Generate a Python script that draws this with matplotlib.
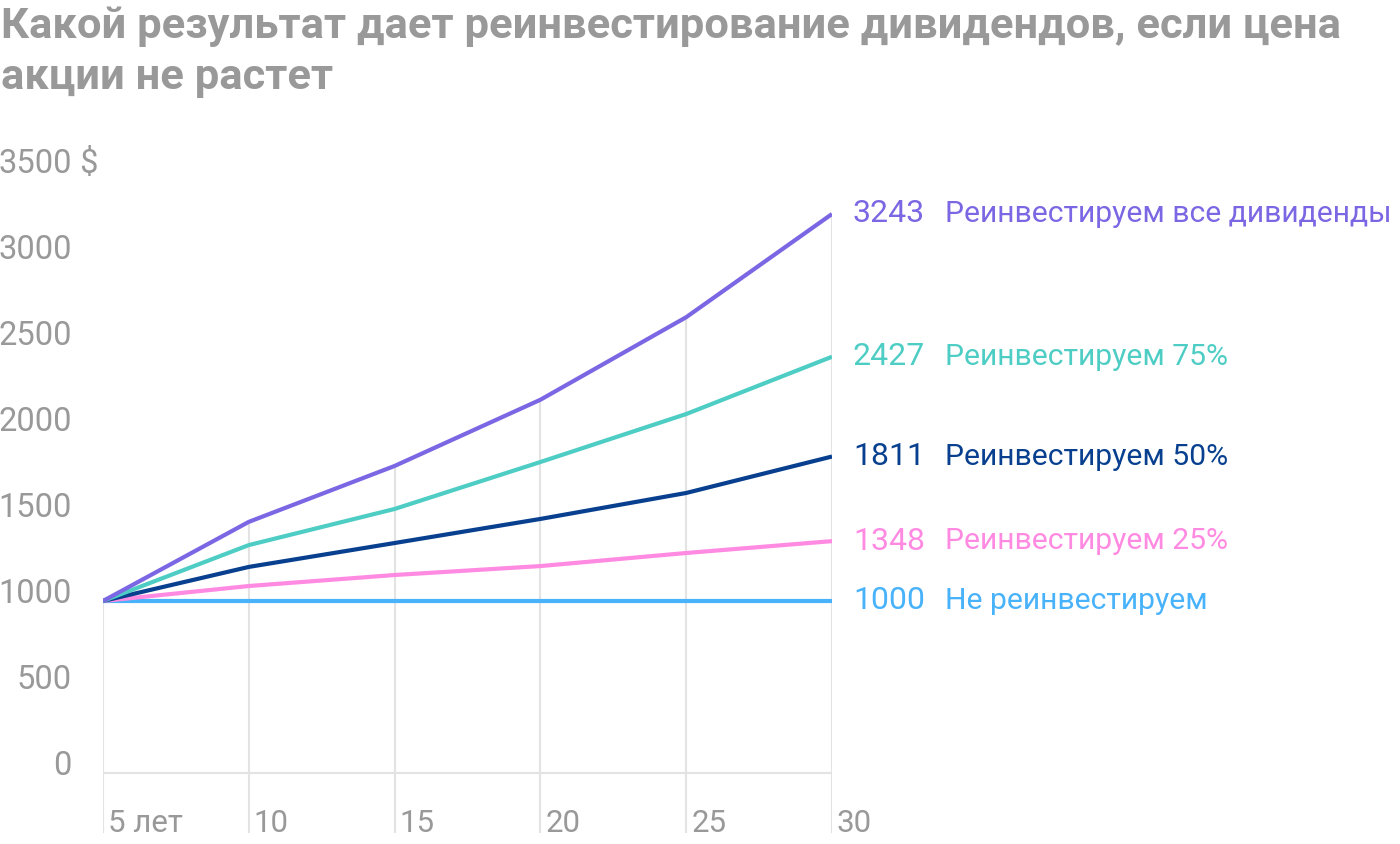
import matplotlib
matplotlib.use("Agg")
import matplotlib.pyplot as plt
from matplotlib import transforms

plt.rcParams['font.family'] = ['Roboto', 'DejaVu Sans']

years = [5, 10, 15, 20, 25, 30]
x_labels = ['5 лет', '10', '15', '20', '25', '30']

# dollars
all_div = [1000, 1460, 1785, 2170, 2650, 3250]
div_75 = [1000, 1325, 1535, 1808, 2087, 2420]
div_50 = [1000, 1198, 1337, 1477, 1628, 1840]
div_25 = [1000, 1087, 1151, 1203, 1279, 1348]
no_div = [1000, 1000, 1000, 1000, 1000, 1000]

end_values = ['3243', '2427', '1811', '1348', '1000']
names = ['Реинвестируем все дивиденды', 'Реинвестируем 75%',
         'Реинвестируем 50%', 'Реинвестируем 25%', 'Не реинвестируем']
colors = ['#7B66E3', '#4ECDC4', '#08408F', '#FF8AE2', '#48B2FA']

y_ticks = [0, 500, 1000, 1500, 2000, 2500, 3000, 3500]
y_labels = ['0', '500', '1000', '1500', '2000', '2500', '3000', '3500']

grey = '#999999'
grid = '#E3E3E3'

fig = plt.figure(figsize=(14, 8.44), dpi=100)
ax = fig.add_axes([103 / 1400, 11 / 844, (832 - 103) / 1400, (833 - 171) / 844])
ax.set_xlim(5, 30)
ax.set_ylim(-349, 3500)
ax.axis('off')

# vertical grid lines from the bottom up to the top series
ax.vlines(years, -349, all_div, color=grid, lw=1.5, zorder=1)
ax.hlines(0, 5, 30, color=grid, lw=1.5, zorder=1)

series = [all_div, div_75, div_50, div_25, no_div]
for vals, c in zip(series[::-1], colors[::-1]):
    ax.plot(years, vals, color=c, lw=3, solid_capstyle='butt', zorder=3)

# y labels, right aligned, slightly above their value
lab_tr = transforms.offset_copy(ax.transData, fig=fig, x=-31, y=7, units='dots')
for v, s in zip(y_ticks, y_labels):
    ax.text(5, v, s, transform=lab_tr, ha='right', va='center',
            fontsize=23.5, color=grey, clip_on=False)
ax.text(5, 3500, ' $', transform=lab_tr, ha='left', va='center',
        fontsize=23.5, color=grey, clip_on=False)

# x labels to the right of each grid line
x_tr = transforms.offset_copy(ax.transData, fig=fig, x=5, y=0, units='dots')
for x, s in zip(years, x_labels):
    ax.text(x, -295, s, transform=x_tr, ha='left', va='center',
            fontsize=22.5, color=grey, clip_on=False)

# end labels
val_tr = transforms.offset_copy(ax.transData, fig=fig, x=21, y=0, units='dots')
name_tr = transforms.offset_copy(ax.transData, fig=fig, x=113, y=0, units='dots')
for vals, ev, nm, c in zip(series, end_values, names, colors):
    ax.text(30, vals[-1], ev, transform=val_tr, ha='left', va='center',
            fontsize=23, color=c, clip_on=False)
    ax.text(30, vals[-1], nm, transform=name_tr, ha='left', va='center',
            fontsize=21.7, color=c, clip_on=False)

fig.text(1 / 1400, 1 - 6 / 844,
         'Какой результат дает реинвестирование дивидендов, если цена\nакции не растет',
         ha='left', va='top', fontsize=31.3, fontweight='bold', color=grey,
         linespacing=1.3)

fig.savefig('out.png', dpi=100)
